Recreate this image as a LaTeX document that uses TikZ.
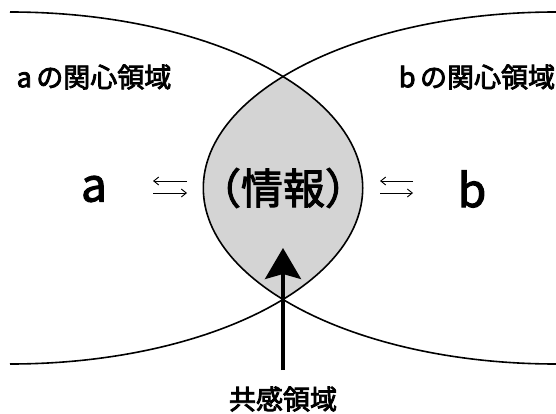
\documentclass[tikz,border=0pt]{standalone}
\usepackage{fontspec}
\newfontfamily\jp{Noto Sans CJK JP}[FakeBold=3]
\newfontfamily\jpbig{Noto Sans CJK JP}[FakeBold=2.4]
\usetikzlibrary{arrows.meta}
\definecolor{lensgray}{RGB}{212,212,212}
\begin{document}
\begin{tikzpicture}[x=1pt,y=1pt,
  boundary/.style={line width=1.6pt},
  region/.style={font=\jp\fontsize{27}{27}\selectfont, inner sep=0pt},
  party/.style={font=\jpbig\fontsize{46}{46}\selectfont, inner sep=0pt},
  info/.style={font=\jpbig\fontsize{42}{42}\selectfont, inner sep=0pt},
  small/.style={line width=0.9pt, -{Straight Barb[length=5pt,width=8pt]}},
  bigarrow/.style={line width=3.6pt, -{Stealth[length=31pt,width=36pt,inset=5pt]}}]
\useasboundingbox (0,0) rectangle (556,413);
% lens (shared region)
\begin{scope}
  \clip (556,225) ellipse[x radius=352.7, y radius=176];
  \fill[lensgray] (10,225) ellipse[x radius=352.7, y radius=176];
\end{scope}
% boundaries of the two regions of interest
\draw[boundary] (10,401) arc[start angle=90, end angle=-90, x radius=352.7, y radius=176];
\draw[boundary] (556,401) arc[start angle=90, end angle=270, x radius=352.7, y radius=176];
% labels
\node[region] (la) at (94,336) {a\,の関心領域};
\node[region] (lb) at (477,336) {b\,の関心領域};
\node[party] (a) at (94,224) {a};
\node[party] (b) at (472,224) {b};
\node[info] (info) at (283,225) {（情報）};
\node[region] (kyo) at (283,14) {共感領域};
% small exchange arrows
\coordinate (al1) at (153,232); \coordinate (ar1) at (187,232);
\coordinate (al2) at (153,220); \coordinate (ar2) at (187,220);
\coordinate (bl1) at (380,232); \coordinate (br1) at (413,232);
\coordinate (bl2) at (380,220); \coordinate (br2) at (413,220);
\draw[small] (ar1) -- (al1);
\draw[small] (al2) -- (ar2);
\draw[small] (br1) -- (bl1);
\draw[small] (bl2) -- (br2);
% big arrow
\coordinate (arrowfoot) at (283,43);
\coordinate (arrowtip) at (283,165);
\draw[bigarrow] (arrowfoot) -- (arrowtip);
\end{tikzpicture}
\end{document}
